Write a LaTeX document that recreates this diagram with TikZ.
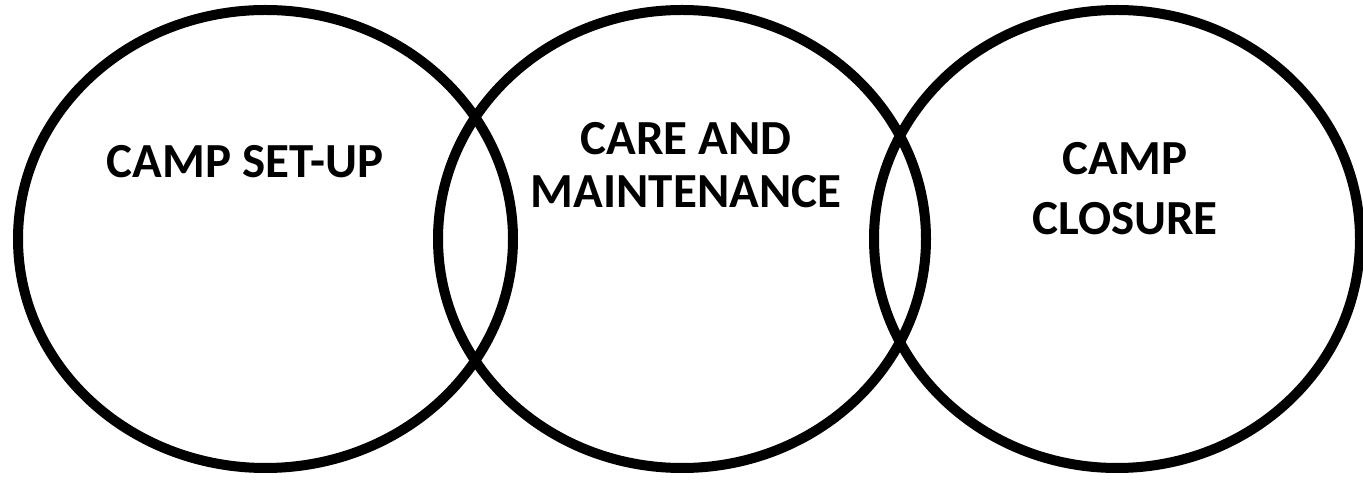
\documentclass[tikz,border=0pt]{standalone}
\usepackage{fontspec}
\setmainfont{Carlito}
\usepackage{tikz}
\usetikzlibrary{positioning}

\begin{document}
\begin{tikzpicture}[x=1pt,y=1pt,
  ring/.style={line width=10pt},
  lbl/.style={font=\bfseries\fontsize{49}{53}\selectfont,align=center,inner sep=0pt,anchor=base}]
\useasboundingbox (0,0) rectangle (1363,482);

\draw[ring] (265.5,243) ellipse [x radius=247.5,y radius=229];
\draw[ring] (682,243) ellipse [x radius=244,y radius=229];
\draw[ring] (1117,243) ellipse [x radius=243,y radius=229];

\node[lbl] (setup) at (245,304) {CAMP SET-UP};
\node[lbl] (care) at (686,274) {CARE AND\\MAINTENANCE};
\node[lbl,font=\bfseries\fontsize{49}{60}\selectfont] (closure) at (1125,247) {CAMP\\CLOSURE}; %two lines, wider gap
\end{tikzpicture}
\end{document}
